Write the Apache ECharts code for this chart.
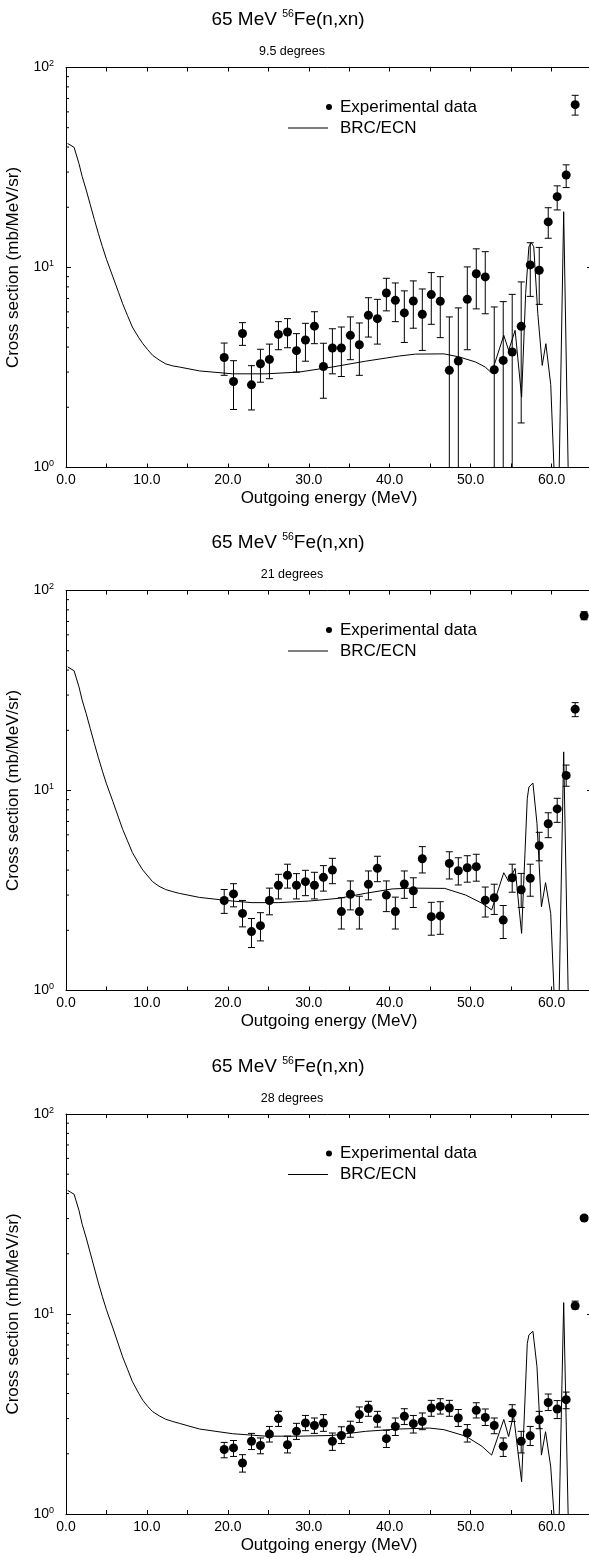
<!DOCTYPE html>
<html><head><meta charset="utf-8">
<script src="https://cdn.jsdelivr.net/npm/echarts@6/dist/echarts.min.js"></script>
<style>html,body{margin:0;padding:0;background:#fff}#c{width:589px;height:1557px}</style>
</head><body><div id="c"></div>
<script>
// ---------- data ----------
const angles = ['9.5 degrees', '21 degrees', '28 degrees'];
const energy = [19.55, 20.70, 21.81, 22.92, 24.03, 25.14, 26.25, 27.37, 28.48, 29.59, 30.70,
  31.81, 32.92, 34.03, 35.14, 36.25, 37.37, 38.48, 39.59, 40.70, 41.81, 42.92, 44.03, 45.14,
  46.25, 47.37, 48.48, 49.59, 50.70, 51.81, 52.92, 54.03, 55.14, 56.25, 57.37, 58.48, 59.59,
  60.70, 61.81, 62.92, 64.03];

// 9.5 degrees
const p1Val = [3.55, 2.69, 4.68, 2.59, 3.30, 3.47, 4.63, 4.76, 3.84, 4.34, 5.09, 3.20, 3.96, 3.96,
  4.58, 4.11, 5.77, 5.55, 7.46, 6.85, 5.93, 6.80, 5.84, 7.32, 6.78, 3.06, 3.41, 6.93, 9.31, 8.97,
  3.08, 3.43, 3.78, 5.08, 10.3, 9.69, 16.9, 22.6, 29.0, 65.2];
const p1Hi = [4.19, 3.42, 5.30, 3.23, 3.90, 4.14, 5.36, 5.55, 4.67, 5.26, 6.01, 4.18, 4.94, 5.04,
  5.66, 5.28, 7.06, 6.93, 8.83, 8.37, 7.64, 8.57, 7.81, 9.43, 9.00, 5.66, 6.28, 10.07, 12.4, 12.0,
  6.35, 6.75, 7.34, 8.47, 13.3, 12.6, 19.9, 25.6, 32.6, 72.6];
const p1Lo = [2.89, 1.95, 4.08, 1.94, 2.67, 2.78, 3.88, 3.97, 3.00, 3.40, 4.16, 2.22, 2.94, 2.85,
  3.46, 2.89, 4.49, 4.14, 6.07, 5.36, 4.22, 4.97, 3.85, 5.20, 4.46, 0.5, 0.5, 3.88, 6.21, 5.87,
  0.5, 0.5, 0.5, 1.67, 7.17, 6.54, 14.0, 19.4, 25.1, 57.8];

// 21 degrees
const p2Val = [2.82, 3.04, 2.43, 1.97, 2.11, 2.82, 3.36, 3.77, 3.36, 3.50, 3.36, 3.68, 4.00, 2.48,
  3.03, 2.48, 3.40, 4.08, 3.00, 2.48, 3.41, 3.15, 4.56, 2.34, 2.36, 4.32, 3.97, 4.11, 4.16, 2.83,
  2.91, 2.25, 3.66, 3.19, 3.64, 5.30, 6.82, 8.09, 11.9, 25.5, 74.8];
const p2Hi = [3.20, 3.42, 2.82, 2.29, 2.45, 3.25, 3.81, 4.28, 3.84, 3.99, 3.90, 4.21, 4.58, 2.91,
  3.53, 2.96, 3.96, 4.69, 3.53, 2.93, 3.96, 3.66, 5.24, 2.76, 2.78, 4.94, 4.61, 4.72, 4.80, 3.29,
  3.40, 2.66, 4.28, 3.85, 4.28, 6.18, 7.74, 9.14, 13.4, 27.5, 78.3];
const p2Lo = [2.43, 2.62, 2.08, 1.64, 1.77, 2.39, 2.87, 3.25, 2.87, 2.98, 2.87, 3.14, 3.42, 2.03,
  2.53, 2.03, 2.84, 3.50, 2.48, 2.03, 2.89, 2.60, 3.87, 1.89, 1.91, 3.61, 3.37, 3.48, 3.52, 2.33,
  2.40, 1.82, 3.10, 2.60, 2.96, 4.45, 5.81, 6.93, 10.5, 23.4, 71.4];

// 28 degrees
const p3Val = [2.10, 2.14, 1.80, 2.31, 2.20, 2.51, 3.00, 2.22, 2.59, 2.85, 2.77, 2.85, 2.31, 2.47,
  2.66, 3.14, 3.37, 2.99, 2.38, 2.74, 3.08, 2.83, 2.90, 3.39, 3.45, 3.39, 3.02, 2.54, 3.30, 3.04,
  2.77, 2.18, 3.20, 2.31, 2.46, 2.96, 3.61, 3.35, 3.73, 11.0, 30.2];
const p3Hi = [2.28, 2.33, 1.98, 2.53, 2.40, 2.74, 3.26, 2.45, 2.84, 3.11, 3.02, 3.14, 2.54, 2.73,
  2.91, 3.43, 3.66, 3.26, 2.62, 3.02, 3.36, 3.11, 3.20, 3.70, 3.77, 3.70, 3.33, 2.80, 3.60, 3.35,
  3.02, 2.40, 3.52, 2.59, 2.74, 3.26, 3.98, 3.69, 4.07, 11.6, 31.0];
const p3Lo = [1.91, 1.94, 1.62, 2.10, 2.00, 2.29, 2.74, 2.02, 2.36, 2.61, 2.53, 2.59, 2.08, 2.25,
  2.42, 2.87, 3.08, 2.72, 2.15, 2.47, 2.80, 2.54, 2.64, 3.08, 3.16, 3.08, 2.74, 2.29, 3.02, 2.77,
  2.52, 1.94, 2.90, 2.02, 2.20, 2.67, 3.29, 3.00, 3.36, 10.6, 29.4];

// BRC/ECN calculation curves
const c1E = [0.2, 1.0, 1.6, 2.0, 2.5, 3.0, 3.5, 4.0, 4.5, 5.0, 5.8, 6.5, 7.0, 7.6, 8.2, 9.0, 9.5,
  10.1, 10.7, 11.5, 12.3, 13.2, 14.0, 16.5, 20.6, 24.7,
  28.8, 32.9, 37.0, 41.2, 43.2, 46.7, 48.6, 50.6, 51.8, 52.6, 54.1, 54.7, 55.5, 56.3, 56.8, 57.2,
  57.5, 57.8, 58.3, 58.85, 59.3, 59.9, 60.3, 60.6, 60.95, 61.5, 62.05, 62.4, 65.0];
const c1V = [41.7, 39.9, 33.1, 28.5, 24.4, 20.6, 17.4, 14.8, 12.7, 11.0, 8.97, 7.5, 6.59, 5.75, 5.04,
  4.45, 4.16, 3.88, 3.64, 3.45, 3.30, 3.22, 3.18, 3.04, 2.94,
  2.94, 3.00, 3.18, 3.40, 3.61, 3.69, 3.70, 3.57, 3.37, 3.18, 2.97, 4.58, 3.85, 4.85, 2.25, 7.4, 12.7,
  13.3, 12.7, 5.9, 3.24, 4.16, 2.6, 1.0, 0.5, 1.0, 19.0, 1.0, 0.5, 0.5];
const c2E = [0.2, 1.0, 1.6, 2.0, 2.5, 3.0, 3.5, 4.0, 4.5, 5.0, 5.8, 6.5, 7.0, 7.6, 8.2, 9.0, 9.5,
  10.1, 10.7, 11.5, 12.3, 13.2, 14.0, 16.5, 20.6, 23.0,
  26.3, 30.0, 33.7, 37.0, 40.3, 42.8, 46.8, 49.4, 51.4, 52.6, 54.1, 54.7, 55.5, 56.3, 57.0, 57.2,
  57.7, 58.2, 58.75, 59.26, 59.9, 60.3, 60.6, 60.95, 61.5, 62.05, 62.4, 65.0];
const c2V = [41.5, 39.7, 33.0, 28.3, 24.2, 20.4, 17.2, 14.6, 12.5, 10.8, 8.8, 7.3, 6.4, 5.6, 4.9,
  4.3, 4.0, 3.74, 3.5, 3.32, 3.2, 3.12, 3.06, 2.92, 2.80, 2.75,
  2.75, 2.80, 2.89, 3.06, 3.22, 3.25, 3.24, 3.00, 2.73, 2.53, 3.88, 3.50, 4.08, 1.93, 9.1, 10.4,
  10.9, 6.85, 2.62, 3.46, 2.43, 1.0, 0.5, 1.0, 15.6, 1.0, 0.5, 0.5];
const c3E = [0.2, 1.0, 1.6, 2.0, 2.5, 3.0, 3.5, 4.0, 4.5, 5.0, 5.8, 6.5, 7.0, 7.6, 8.2, 9.0, 9.5,
  10.1, 10.7, 11.5, 12.3, 13.2, 14.0, 16.5, 20.6, 24.7,
  28.8, 32.9, 37.0, 41.2, 44.9, 46.7, 49.4, 51.4, 52.6, 54.1, 54.7, 55.3, 56.3, 57.0, 57.2, 57.7,
  58.2, 58.75, 59.26, 59.9, 60.3, 60.6, 60.95, 61.5, 62.05, 62.4, 65.0];
const c3V = [41.5, 39.7, 33.0, 28.1, 24.0, 20.2, 17.0, 14.3, 12.2, 10.5, 8.5, 7.0, 6.1, 5.3, 4.6,
  4.0, 3.7, 3.45, 3.25, 3.1, 2.98, 2.9, 2.84, 2.66, 2.52,
  2.45, 2.45, 2.47, 2.59, 2.66, 2.69, 2.64, 2.45, 2.18, 1.97, 2.97, 2.44, 3.13, 1.45, 7.1, 7.85,
  8.2, 5.45, 1.97, 2.58, 1.72, 1.0, 0.5, 1.0, 11.4, 1.0, 0.5, 0.5];

const yMinorTicks = [2, 3, 4, 5, 6, 7, 8, 9, 20, 30, 40, 50, 60, 70, 80, 90];

// ---------- chart ----------
const FONT = '"Liberation Sans", Arial, Helvetica, sans-serif';
const panelTops = [67.5, 590.5, 1114];
const PH = 400;
const panels = [
  { val: p1Val, lo: p1Lo, hi: p1Hi, cE: c1E, cV: c1V },
  { val: p2Val, lo: p2Lo, hi: p2Hi, cE: c2E, cV: c2V },
  { val: p3Val, lo: p3Lo, hi: p3Hi, cE: c3E, cV: c3V }
];

const grid = [], xAxis = [], yAxis = [], series = [], title = [], legend = [];
const black = '#000';

panels.forEach((p, i) => {
  const T = panelTops[i];
  grid.push({ left: 66, top: T, width: 526, height: PH, containLabel: false, outerBoundsMode: 'none' });
  title.push({
    text: '{a|65 MeV }{s|56}{a|Fe(n,xn)}', left: 288, top: T - 58.5, textAlign: 'center', padding: 0,
    textStyle: { fontWeight: 'normal', rich: {
      a: { fontSize: 19, fontFamily: FONT, color: black, lineHeight: 22, fontWeight: 'normal' },
      s: { fontSize: 10.5, fontFamily: FONT, color: black, lineHeight: 11, verticalAlign: 'top', fontWeight: 'normal' }
    } }
  });
  title.push({
    text: angles[i], left: 292, top: T - 22.5, textAlign: 'center', padding: 0,
    textStyle: { fontSize: 12.5, fontFamily: FONT, color: black, fontWeight: 'normal', lineHeight: 14 }
  });
  legend.push({
    data: ['Experimental data'], left: 326, top: T + 31, icon: 'circle', itemWidth: 6, itemHeight: 6,
    selectedMode: false, padding: 0, itemStyle: { color: black, opacity: 1 },
    textStyle: { fontSize: 17, fontFamily: FONT, color: black, lineHeight: 17, padding: [0, 0, 0, 3] }
  });
  legend.push({
    data: ['BRC/ECN'], left: 288, top: T + 52, icon: 'rect', itemWidth: 40, itemHeight: 1,
    selectedMode: false, padding: 0, itemStyle: { color: black, opacity: 1 },
    textStyle: { fontSize: 17, fontFamily: FONT, color: black, lineHeight: 17, padding: [0, 0, 0, 7] }
  });

  const lineStyle = { color: black, width: 1 };
  xAxis.push({
    gridIndex: i, type: 'value', min: 0, max: 65, interval: 5, position: 'bottom',
    name: 'Outgoing energy (MeV)', nameLocation: 'middle', nameGap: 22,
    nameTextStyle: { fontSize: 17, fontFamily: FONT, color: black, lineHeight: 18 },
    axisLine: { show: true, onZero: false, lineStyle },
    axisTick: { show: true, inside: true, length: 4, lineStyle },
    axisLabel: { show: true, margin: 6, fontSize: 14, fontFamily: FONT, color: black,
      showMaxLabel: false, hideOverlap: false,
      formatter: v => (v % 10 === 0 ? v.toFixed(1) : '') },
    splitLine: { show: false }
  });
  yAxis.push({
    gridIndex: i, type: 'log', logBase: 10, min: 1, max: 100, position: 'left',
    name: 'Cross section (mb/MeV/sr)', nameLocation: 'middle', nameGap: 34, nameRotate: 90,
    nameTextStyle: { fontSize: 17, fontFamily: FONT, color: black, lineHeight: 18 },
    axisLine: { show: true, onZero: false, lineStyle },
    axisTick: { show: true, inside: true, length: 5, lineStyle },
    axisLabel: { show: true, margin: 12, hideOverlap: false,
      formatter: v => '{b|10}{s|' + Math.round(Math.log10(v)) + '}',
      rich: {
        b: { fontSize: 14, fontFamily: FONT, color: black, lineHeight: 16 },
        s: { fontSize: 9, fontFamily: FONT, color: black, lineHeight: 6, verticalAlign: 'top' }
      } },
    splitLine: { show: false }
  });
});
// top and right frame axes (ticks only)
panels.forEach((p, i) => {
  const lineStyle = { color: black, width: 1 };
  xAxis.push({
    gridIndex: i, type: 'value', min: 0, max: 65, interval: 5, position: 'top',
    axisLine: { show: true, onZero: false, lineStyle },
    axisTick: { show: true, inside: true, length: 4, lineStyle },
    axisLabel: { show: false }, splitLine: { show: false }
  });
  yAxis.push({
    gridIndex: i, type: 'log', logBase: 10, min: 1, max: 100, position: 'right',
    axisLine: { show: true, onZero: false, lineStyle },
    axisTick: { show: true, inside: true, length: 5, lineStyle },
    axisLabel: { show: false }, splitLine: { show: false }
  });
});

panels.forEach((p, i) => {
  const n = p.val.length;
  const pts = [], bars = [];
  for (let k = 0; k < n; k++) {
    pts.push([energy[k], p.val[k]]);
    bars.push([energy[k], p.lo[k], p.hi[k]]);
  }
  series.push({
    type: 'custom', name: 'err' + i, xAxisIndex: i, yAxisIndex: i, clip: true, silent: true,
    encode: { x: 0, y: [1, 2] }, data: bars, z: 2,
    renderItem: (params, api) => {
      const x = api.value(0);
      const a = api.coord([x, api.value(1)]);
      const b = api.coord([x, api.value(2)]);
      const st = { stroke: black, lineWidth: 1, fill: null };
      return { type: 'group', children: [
        { type: 'line', shape: { x1: a[0], y1: a[1], x2: b[0], y2: b[1] }, style: st },
        { type: 'line', shape: { x1: b[0] - 3.5, y1: b[1], x2: b[0] + 3.5, y2: b[1] }, style: st },
        { type: 'line', shape: { x1: a[0] - 3.5, y1: a[1], x2: a[0] + 3.5, y2: a[1] }, style: st }
      ] };
    }
  });
  series.push({
    type: 'scatter', name: 'Experimental data', xAxisIndex: i, yAxisIndex: i,
    symbol: 'circle', symbolSize: 9, itemStyle: { color: black, opacity: 1 }, data: pts, z: 3, clip: true
  });
  series.push({
    type: 'line', name: 'BRC/ECN', xAxisIndex: i, yAxisIndex: i, showSymbol: false, symbol: 'none',
    smooth: false, clip: true, lineStyle: { color: black, width: 1 }, itemStyle: { color: black },
    data: p.cE.map((e, k) => [e, p.cV[k]]), z: 4
  });
  series.push({
    type: 'custom', name: 'minor' + i, xAxisIndex: i, yAxisIndex: i, silent: true, clip: false,
    encode: { y: 0 }, data: yMinorTicks.map(v => [v]), z: 5,
    renderItem: (params, api) => {
      const c = api.coord([0, api.value(0)]);
      return { type: 'line', shape: { x1: c[0], y1: c[1], x2: c[0] + 3, y2: c[1] },
        style: { stroke: black, lineWidth: 1 } };
    }
  });
});

const chart = echarts.init(document.getElementById('c'), null, { renderer: 'canvas' });
chart.setOption({
  animation: false, backgroundColor: '#fff', color: [black],
  title, legend, grid, xAxis, yAxis, series
});
</script>
</body></html>
